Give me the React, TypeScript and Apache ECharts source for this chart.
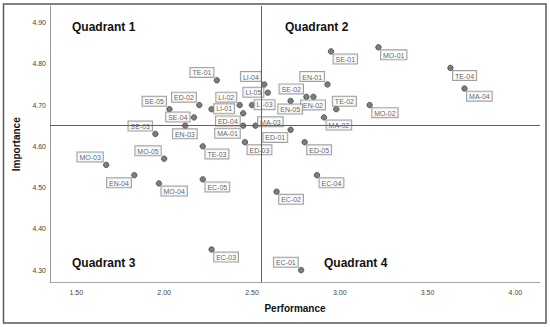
import React, { useEffect, useRef } from "react";
import * as echarts from "echarts";

const itemCodes = [
  "SE-01", "SE-02", "SE-03", "SE-04", "SE-05",
  "MO-01", "MO-02", "MO-03", "MO-04", "MO-05",
  "TE-01", "TE-02", "TE-03", "TE-04",
  "LI-01", "LI-02", "LI-03", "LI-04", "LI-05",
  "ED-01", "ED-02", "ED-03", "ED-04", "ED-05",
  "EN-01", "EN-02", "EN-03", "EN-04", "EN-05",
  "MA-01", "MA-02", "MA-03", "MA-04",
  "EC-01", "EC-02", "EC-03", "EC-04", "EC-05",
];

const performance = [
  2.95, 2.81, 1.95, 2.17, 2.03,
  3.22, 3.17, 1.67, 1.97, 2.0,
  2.3, 2.98, 2.22, 3.63,
  2.27, 2.43, 2.5, 2.57, 2.59,
  2.72, 2.2, 2.46, 2.45, 2.8,
  2.93, 2.85, 2.12, 1.83, 2.72,
  2.45, 2.91, 2.52, 3.71,
  2.78, 2.64, 2.27, 2.87, 2.22,
];

const importance = [
  4.83, 4.72, 4.63, 4.67, 4.69,
  4.84, 4.7, 4.555, 4.51, 4.57,
  4.76, 4.69, 4.6, 4.79,
  4.69, 4.7, 4.7, 4.75, 4.73,
  4.64, 4.7, 4.61, 4.68, 4.61,
  4.75, 4.72, 4.65, 4.53, 4.71,
  4.65, 4.67, 4.65, 4.74,
  4.3, 4.49, 4.35, 4.53, 4.52,
];

// label placement around each point (style only)
const labelPlacement = [
  "lr", "ul", "ul", "l", "ul",
  "lr", "lr", "ul", "lr", "ul",
  "ul", "tr", "lr", "lr",
  "r", "ul", "r", "ul", "l",
  "ll", "ul", "lr", "ll", "lr",
  "ul", "b", "b", "ll", "b",
  "ll", "lr", "ur", "lr",
  "ul", "lr", "lr", "lr", "lr",
];

const meanPerformance = 2.547;
const meanImportance = 4.651;

const xTicks = [1.5, 2.0, 2.5, 3.0, 3.5, 4.0];
const yTicks = [4.3, 4.4, 4.5, 4.6, 4.7, 4.8, 4.9];

const quadrantNames = ["Quadrant 1", "Quadrant 2", "Quadrant 3", "Quadrant 4"];

const SYM = 5.5;
const placementStyle: Record<string, any> = {
  lr: { dx: 3, dy: 3.5, align: "left", verticalAlign: "top" },
  ul: { dx: -3, dy: -3, align: "right", verticalAlign: "bottom" },
  ll: { dx: -3, dy: 3.5, align: "right", verticalAlign: "top" },
  l: { dx: -4, dy: 0, align: "right", verticalAlign: "middle" },
  r: { dx: 3, dy: 0, align: "left", verticalAlign: "middle" },
  b: { dx: 0, dy: 4, align: "center", verticalAlign: "top" },
  tr: { dx: -3, dy: -3, align: "left", verticalAlign: "bottom" },
  ur: { dx: 3, dy: 1, align: "left", verticalAlign: "bottom" },
};

function isTick(v: number, list: number[]) {
  return list.some((t) => Math.abs(t - v) < 1e-6);
}

export default function App() {
  const ref = useRef<HTMLDivElement>(null);
  useEffect(() => {
    if (!ref.current) return;
    const chart = echarts.init(ref.current, undefined, { renderer: "svg" });
    const font = "Arial, 'Liberation Sans', sans-serif";
    const data = itemCodes.map((code, i) => {
      const p = placementStyle[labelPlacement[i]];
      return {
        name: code,
        value: [performance[i], importance[i]],
        label: {
          position: [SYM / 2 + p.dx, SYM / 2 + p.dy],
          align: p.align,
          verticalAlign: p.verticalAlign,
        },
      };
    });
    const option: any = {
      animation: false,
      backgroundColor: "#ffffff",
      grid: { left: 50, top: 6, width: 490, height: 276.5, containLabel: false },
      xAxis: {
        type: "value",
        min: 1.35,
        max: 4.14,
        interval: 0.01,
        name: "Performance",
        nameLocation: "middle",
        nameGap: 21,
        nameTextStyle: { fontSize: 10, fontWeight: "bold", color: "#111", fontFamily: font },
        axisLine: { show: true, lineStyle: { color: "#a8a8a8", width: 1 } },
        axisTick: { show: false },
        splitLine: { show: false },
        axisLabel: {
          interval: 0,
          fontSize: 7,
          color: "#444",
          fontFamily: font,
          margin: 6,
          showMinLabel: true,
          showMaxLabel: true,
          formatter: (v: number) => (isTick(v, xTicks) ? v.toFixed(2) : ""),
        },
      },
      yAxis: {
        type: "value",
        min: 4.27,
        max: 4.94,
        interval: 0.01,
        name: "Importance",
        nameLocation: "middle",
        nameGap: 24,
        nameTextStyle: { fontSize: 10, fontWeight: "bold", color: "#111", fontFamily: font },
        axisLine: { show: true, lineStyle: { color: "#999", width: 1 } },
        axisTick: { show: false },
        splitLine: { show: false },
        axisLabel: {
          interval: 0,
          fontSize: 7,
          color: "#444",
          fontFamily: font,
          margin: 4,
          formatter: (v: number) => (isTick(v, yTicks) ? v.toFixed(2) : ""),
        },
      },
      graphic: [
        {
          type: "rect",
          shape: { x: 3.5, y: 4, width: 542.5, height: 319 },
          style: { fill: "none", stroke: "#5a5a5a", lineWidth: 1.5 },
          silent: true,
          z: 0,
        },
        ...quadrantNames.map((q, i) => ({
          type: "text",
          x: [72, 285, 72, 324][i],
          y: [27, 27, 263, 263][i],
          style: {
            text: q,
            fontSize: 12,
            fontWeight: "bold",
            fill: "#111",
            fontFamily: font,
            textVerticalAlign: "middle",
            verticalAlign: "middle",
          },
          z: 10,
        })),
      ],
      series: [
        {
          type: "scatter",
          data: [],
          z: 1,
          markLine: {
            silent: true,
            symbol: "none",
            label: { show: false },
            lineStyle: { color: "#606060", width: 1, type: "solid" },
            data: [{ xAxis: meanPerformance }, { yAxis: meanImportance }],
          },
        },
        {
          type: "scatter",
          z: 3,
          symbol: "circle",
          symbolSize: SYM,
          itemStyle: { color: "#5c5c5c", borderColor: "#333", borderWidth: 0.8 },
          label: {
            show: true,
            formatter: "{b}",
            fontSize: 7,
            lineHeight: 8,
            color: "#333",
            fontFamily: font,
            backgroundColor: "#fdfdfd",
            borderColor: "#888",
            borderWidth: 1,
            padding: [1, 2, 0, 2],
          },
          labelLayout: { hideOverlap: false },
          data,
        },
      ],
    };
    chart.setOption(option);
    return () => chart.dispose();
  }, []);
  return (
    <div
      ref={ref}
      style={{ position: "fixed", left: 0, top: 0, width: 550, height: 327, background: "#fff" }}
    />
  );
}
